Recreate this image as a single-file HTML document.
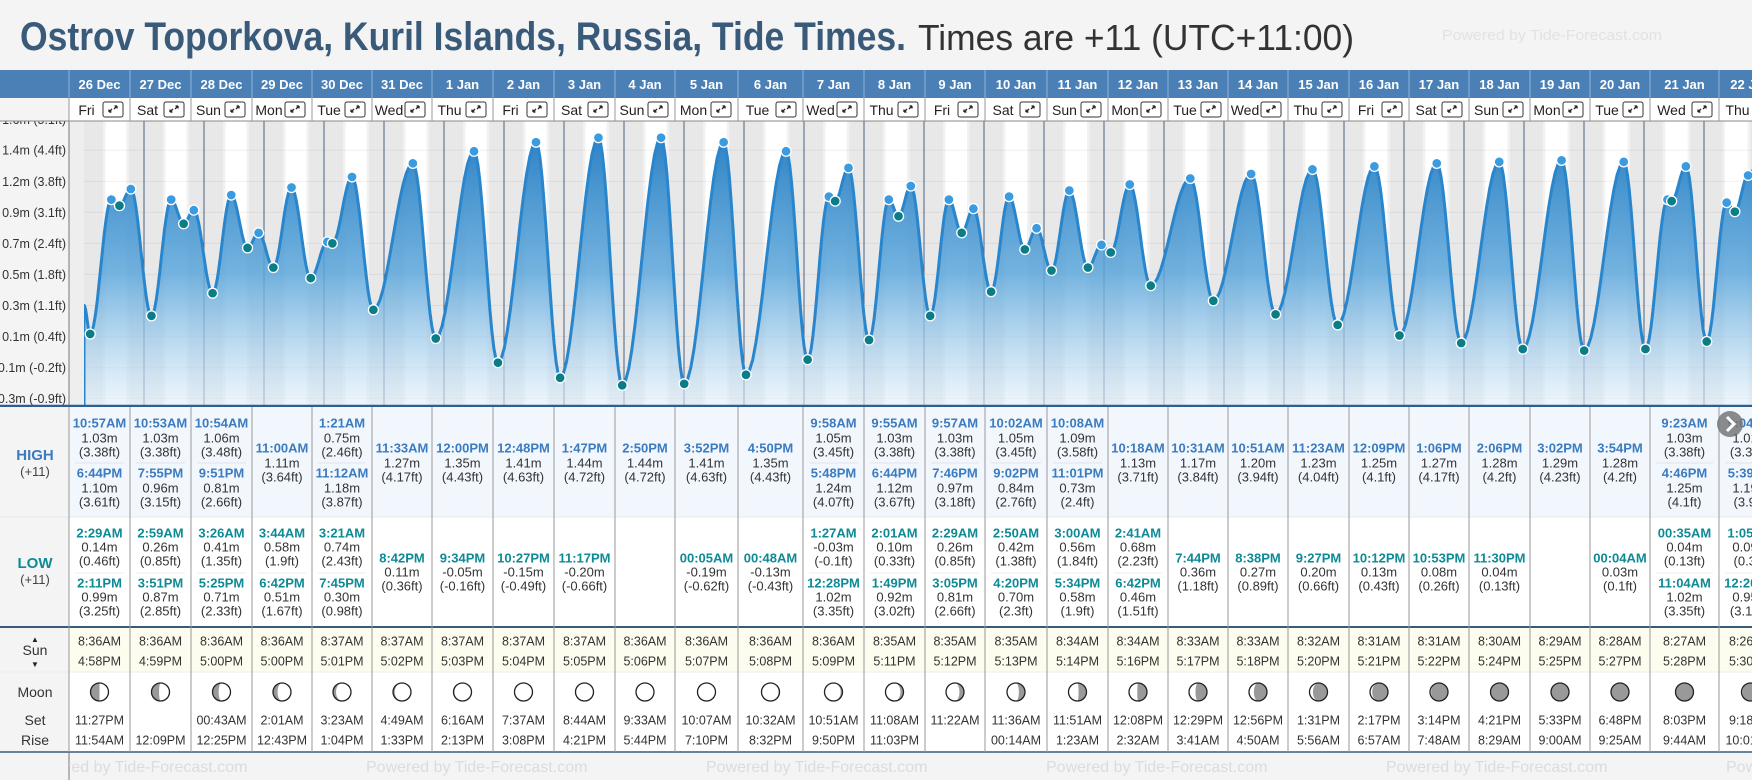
<!DOCTYPE html>
<html><head><meta charset="utf-8"><style>
html,body{margin:0;padding:0;background:#f4f4f4;}
svg{display:block;font-family:"Liberation Sans",Arial,sans-serif;}
</style></head><body>
<svg id="c" width="1752" height="780" viewBox="0 0 1752 780" xmlns="http://www.w3.org/2000/svg">
<defs>
<linearGradient id="fillg" x1="0" y1="0" x2="0" y2="1">
<stop offset="0" stop-color="#2a80c4" stop-opacity="0.98"/>
<stop offset="0.5" stop-color="#5aa5da" stop-opacity="0.85"/>
<stop offset="1" stop-color="#e2f0fb" stop-opacity="0.6"/>
</linearGradient>
<clipPath id="plotclip"><rect x="84" y="121" width="1668" height="285"/></clipPath>
<clipPath id="footclip"><rect x="69" y="752" width="1683" height="28"/></clipPath>
</defs>
<rect x="0" y="0" width="1752" height="780" fill="#f4f4f4"/>
<text x="20" y="50" font-size="40" font-weight="bold" fill="#3a5a7a" textLength="886" lengthAdjust="spacingAndGlyphs">Ostrov Toporkova, Kuril Islands, Russia, Tide Times.</text>
<text x="918" y="50" font-size="36" fill="#333" textLength="436" lengthAdjust="spacingAndGlyphs">Times are +11 (UTC+11:00)</text>
<text x="1442" y="40" font-size="15" fill="#e2e2e2" textLength="220" lengthAdjust="spacingAndGlyphs">Powered by Tide-Forecast.com</text>
<g id="layer"></g>
</svg>
<script>
const dates=['26 Dec','27 Dec','28 Dec','29 Dec','30 Dec','31 Dec','1 Jan','2 Jan','3 Jan','4 Jan','5 Jan','6 Jan','7 Jan','8 Jan','9 Jan','10 Jan','11 Jan','12 Jan','13 Jan','14 Jan','15 Jan','16 Jan','17 Jan','18 Jan','19 Jan','20 Jan','21 Jan','22 Jan'];
const dayNames=['Fri','Sat','Sun','Mon','Tue','Wed','Thu'];
const highs=[
[['10:57AM',1.03,'3.38'],['6:44PM',1.10,'3.61']],
[['10:53AM',1.03,'3.38'],['7:55PM',0.96,'3.15']],
[['10:54AM',1.06,'3.48'],['9:51PM',0.81,'2.66']],
[['11:00AM',1.11,'3.64']],
[['1:21AM',0.75,'2.46'],['11:12AM',1.18,'3.87']],
[['11:33AM',1.27,'4.17']],
[['12:00PM',1.35,'4.43']],
[['12:48PM',1.41,'4.63']],
[['1:47PM',1.44,'4.72']],
[['2:50PM',1.44,'4.72']],
[['3:52PM',1.41,'4.63']],
[['4:50PM',1.35,'4.43']],
[['9:58AM',1.05,'3.45'],['5:48PM',1.24,'4.07']],
[['9:55AM',1.03,'3.38'],['6:44PM',1.12,'3.67']],
[['9:57AM',1.03,'3.38'],['7:46PM',0.97,'3.18']],
[['10:02AM',1.05,'3.45'],['9:02PM',0.84,'2.76']],
[['10:08AM',1.09,'3.58'],['11:01PM',0.73,'2.4']],
[['10:18AM',1.13,'3.71']],
[['10:31AM',1.17,'3.84']],
[['10:51AM',1.20,'3.94']],
[['11:23AM',1.23,'4.04']],
[['12:09PM',1.25,'4.1']],
[['1:06PM',1.27,'4.17']],
[['2:06PM',1.28,'4.2']],
[['3:02PM',1.29,'4.23']],
[['3:54PM',1.28,'4.2']],
[['9:23AM',1.03,'3.38'],['4:46PM',1.25,'4.1']],
[['9:04AM',1.01,'3.31'],['5:39PM',1.19,'3.9']]];
const lows=[
[['2:29AM',0.14,'0.46'],['2:11PM',0.99,'3.25']],
[['2:59AM',0.26,'0.85'],['3:51PM',0.87,'2.85']],
[['3:26AM',0.41,'1.35'],['5:25PM',0.71,'2.33']],
[['3:44AM',0.58,'1.9'],['6:42PM',0.51,'1.67']],
[['3:21AM',0.74,'2.43'],['7:45PM',0.30,'0.98']],
[['8:42PM',0.11,'0.36']],
[['9:34PM',-0.05,'-0.16']],
[['10:27PM',-0.15,'-0.49']],
[['11:17PM',-0.20,'-0.66']],
[],
[['00:05AM',-0.19,'-0.62']],
[['00:48AM',-0.13,'-0.43']],
[['1:27AM',-0.03,'-0.1'],['12:28PM',1.02,'3.35']],
[['2:01AM',0.10,'0.33'],['1:49PM',0.92,'3.02']],
[['2:29AM',0.26,'0.85'],['3:05PM',0.81,'2.66']],
[['2:50AM',0.42,'1.38'],['4:20PM',0.70,'2.3']],
[['3:00AM',0.56,'1.84'],['5:34PM',0.58,'1.9']],
[['2:41AM',0.68,'2.23'],['6:42PM',0.46,'1.51']],
[['7:44PM',0.36,'1.18']],
[['8:38PM',0.27,'0.89']],
[['9:27PM',0.20,'0.66']],
[['10:12PM',0.13,'0.43']],
[['10:53PM',0.08,'0.26']],
[['11:30PM',0.04,'0.13']],
[],
[['00:04AM',0.03,'0.1']],
[['00:35AM',0.04,'0.13'],['11:04AM',1.02,'3.35']],
[['1:05AM',0.09,'0.3'],['12:20PM',0.95,'3.12']]];
const sunrise=['8:36AM','8:36AM','8:36AM','8:36AM','8:37AM','8:37AM','8:37AM','8:37AM','8:37AM','8:36AM','8:36AM','8:36AM','8:36AM','8:35AM','8:35AM','8:35AM','8:34AM','8:34AM','8:33AM','8:33AM','8:32AM','8:31AM','8:31AM','8:30AM','8:29AM','8:28AM','8:27AM','8:26AM'];
const sunset=['4:58PM','4:59PM','5:00PM','5:00PM','5:01PM','5:02PM','5:03PM','5:04PM','5:05PM','5:06PM','5:07PM','5:08PM','5:09PM','5:11PM','5:12PM','5:13PM','5:14PM','5:16PM','5:17PM','5:18PM','5:20PM','5:21PM','5:22PM','5:24PM','5:25PM','5:27PM','5:28PM','5:30PM'];
const moonSet=['11:27PM','','00:43AM','2:01AM','3:23AM','4:49AM','6:16AM','7:37AM','8:44AM','9:33AM','10:07AM','10:32AM','10:51AM','11:08AM','11:22AM','11:36AM','11:51AM','12:08PM','12:29PM','12:56PM','1:31PM','2:17PM','3:14PM','4:21PM','5:33PM','6:48PM','8:03PM','9:18PM'];
const moonRise=['11:54AM','12:09PM','12:25PM','12:43PM','1:04PM','1:33PM','2:13PM','3:08PM','4:21PM','5:44PM','7:10PM','8:32PM','9:50PM','11:03PM','','00:14AM','1:23AM','2:32AM','3:41AM','4:50AM','5:56AM','6:57AM','7:48AM','8:29AM','9:00AM','9:25AM','9:44AM','10:01AM'];
const moonLit=[0.5,0.58,0.66,0.75,0.83,0.9,0.95,0.99,1,1,0.98,0.95,0.9,0.83,0.75,0.66,0.56,0.46,0.36,0.27,0.19,0.12,0.06,0.03,0.01,0.01,0.02,0.05];
const tickMetres=[1.562,1.357,1.151,0.946,0.74,0.535,0.329,0.124,-0.082,-0.287];
const tickLabels=['1.6m (5.1ft)','1.4m (4.4ft)','1.2m (3.8ft)','0.9m (3.1ft)','0.7m (2.4ft)','0.5m (1.8ft)','0.3m (1.1ft)','0.1m (0.4ft)','-0.1m (-0.2ft)','-0.3m (-0.9ft)'];
const startLevel=0.33;

const bounds=[69,130,191,252,312,372,432,493,554,615,675,738,803,864,925,985,1047,1108,1168,1228,1288,1349,1409,1469,1530,1590,1650,1719,1782];
const NS='http://www.w3.org/2000/svg';
const L=document.getElementById('layer');
function mk(tag,attrs,parent,txt){const e=document.createElementNS(NS,tag);for(const k in attrs)e.setAttribute(k,attrs[k]);if(txt!==undefined)e.textContent=txt;(parent||L).appendChild(e);return e;}
const X0=84, PXH=2.5, PB=406, PT=121;
function xT(t){return X0+t*PXH;}
function yH(h){return 337-(h-0.12)*151;}
function parseT(s){const m=s.match(/(\d+):(\d+)(AM|PM)/);let h=+m[1],mi=+m[2];if(m[3]==='PM'&&h<12)h+=12;if(m[3]==='AM'&&h===12)h=0;return h+mi/60;}

const plotBg=mk('g',{'clip-path':'url(#plotclip)'});


mk('rect',{x:69,y:PT,width:1683,height:PB-PT,fill:'#e8e8e8'},plotBg);
mk('rect',{x:69,y:PT,width:15,height:PB-PT,fill:'#eeeeee'});
for(let i=0;i<dates.length;i++){
  const sr=parseT(sunrise[i]),ss=parseT(sunset[i]);
  mk('rect',{x:xT(i*24+sr-1),y:PT,width:PXH*1,height:PB-PT,fill:'#f2f2f2'},plotBg);
  mk('rect',{x:xT(i*24+ss),y:PT,width:PXH*1,height:PB-PT,fill:'#f2f2f2'},plotBg);
  const d=mk('rect',{x:xT(i*24+sr),y:PT,width:(ss-sr)*PXH,height:PB-PT,fill:'#ffffff'},plotBg);
  
  
}
for(let k=0;k<tickMetres.length;k++){
  mk('line',{x1:84,x2:1752,y1:yH(tickMetres[k]),y2:yH(tickMetres[k]),stroke:'#000',opacity:0.05,'stroke-width':1},plotBg);
}
for(let i=1;i<dates.length;i++){
  const ln=mk('line',{x1:xT(i*24),x2:xT(i*24),y1:PT,y2:PB,stroke:'#4a6080','stroke-width':1},plotBg);
  
  
}
const ext=[];
for(let i=0;i<dates.length;i++){
  highs[i].forEach(e=>ext.push({t:i*24+parseT(e[0]),h:e[1],hi:true}));
  lows[i].forEach(e=>ext.push({t:i*24+parseT(e[0]),h:e[1],hi:false}));
}
ext.sort((a,b)=>a.t-b.t);
const pts=[{t:0,h:startLevel}].concat(ext);
let d='M'+xT(0)+','+PB+' L'+xT(0)+','+yH(startLevel).toFixed(1);
let line='M'+xT(0)+','+PB+' L'+xT(0)+','+yH(startLevel).toFixed(1);
for(let k=0;k<pts.length-1;k++){
  const a=pts[k],b=pts[k+1];
  for(let s=1;s<=12;s++){
    const f=s/12,t=a.t+(b.t-a.t)*f,h=a.h+(b.h-a.h)*(1-Math.cos(Math.PI*f))/2;
    const seg=' L'+xT(t).toFixed(1)+','+yH(h).toFixed(1);d+=seg;line+=seg;
  }
}
const last=pts[pts.length-1];
const ext2=last.t+6.2, eh=1.35;
for(let s=1;s<=12;s++){const f=s/12,t=last.t+(ext2-last.t)*f,h=last.h+(eh-last.h)*(1-Math.cos(Math.PI*f))/2;const seg=' L'+xT(t).toFixed(1)+','+yH(h).toFixed(1);d+=seg;line+=seg;}
d+=' L'+xT(ext2)+','+PB+' Z';
const cg=mk('g',{'clip-path':'url(#plotclip)'});
const area=mk('path',{d:d,fill:'url(#fillg)'},cg);


const tl=mk('path',{d:line,fill:'none',stroke:'#2a86cc','stroke-width':3,'stroke-linejoin':'round'},cg);


ext.forEach(e=>{
  const c=mk('circle',{cx:xT(e.t),cy:yH(e.h),r:5,fill:e.hi?'#3a9be0':'#0a7d87',stroke:'#fff','stroke-width':1.3},cg);
  
  
});
mk('rect',{x:0,y:98,width:69,height:308,fill:'#f4f4f4'});
mk('line',{x1:69,x2:69,y1:98,y2:406,stroke:'#777','stroke-width':1});
for(let k=0;k<tickLabels.length;k++){
  const t=mk('text',{x:66,y:yH(tickMetres[k])+4.5,'font-size':12.5,fill:'#333','text-anchor':'end'},L,tickLabels[k]);
  
  
}
mk('rect',{x:0,y:70,width:1752,height:28,fill:'#4a80b5'});
mk('rect',{x:69,y:98,width:1683,height:23,fill:'#ffffff'});
mk('rect',{x:0,y:98,width:69,height:23,fill:'#f4f4f4'});
mk('line',{x1:0,x2:1752,y1:121,y2:121,stroke:'#888','stroke-width':1});
mk('line',{x1:0,x2:1752,y1:406,y2:406,stroke:'#2f5f8f','stroke-width':2.5});
mk('rect',{x:0,y:407,width:69,height:345,fill:'#f4f4f4'});
mk('rect',{x:69,y:407,width:1683,height:110,fill:'#f2f7fd'});
mk('rect',{x:69,y:517,width:1683,height:110,fill:'#ffffff'});
mk('rect',{x:69,y:627,width:1683,height:45,fill:'#fcfcef'});
mk('rect',{x:69,y:672,width:1683,height:80,fill:'#ffffff'});
mk('line',{x1:0,x2:1752,y1:517,y2:517,stroke:'#e8e8e8','stroke-width':1});
mk('line',{x1:0,x2:1752,y1:627,y2:627,stroke:'#3a5a7a','stroke-width':2});
mk('line',{x1:0,x2:1752,y1:672,y2:672,stroke:'#eeeeee','stroke-width':1});
mk('line',{x1:0,x2:1752,y1:752,y2:752,stroke:'#3a5a7a','stroke-width':1.5});
mk('line',{x1:69,x2:69,y1:407,y2:780,stroke:'#777','stroke-width':1});
const lbl=(x,y,s,txt,fs,fw,fill,name)=>{const t=mk('text',{x:x,y:y,'font-size':fs,'font-weight':fw,fill:fill,'text-anchor':'middle'},L,txt);};
lbl(35,460,0,'HIGH',15,'bold','#3b7bc0','high-label');
lbl(35,476,0,'(+11)',13,'normal','#444','high-tz-label');
lbl(35,568,0,'LOW',15,'bold','#0e8a96','low-label');
lbl(35,584,0,'(+11)',13,'normal','#444','low-tz-label');
lbl(35,642,0,'▲',8,'normal','#222','sunrise-arrow');
lbl(35,655,0,'Sun',14,'normal','#333','sun-label');
lbl(35,667,0,'▼',8,'normal','#222','sunset-arrow');
lbl(35,697,0,'Moon',14,'normal','#333','moon-label');
lbl(35,725,0,'Set',14,'normal','#333','moonset-label');
lbl(35,745,0,'Rise',14,'normal','#333','moonrise-label');
const fg=mk('g',{'clip-path':'url(#footclip)'});
for(let k=0;k<6;k++){
  const t=mk('text',{x:26+k*340,y:772,'font-size':16,fill:'#dcdcdc'},fg,'Powered by Tide-Forecast.com');
  
  
}
function moonIcon(cx,cy,k,right){
  const r=9,g=mk('g',{});
  
  
  mk('circle',{cx:cx,cy:cy,r:r,fill:'#999'},g);
  const rx=Math.abs(2*k-1)*r;
  let s1,s2;
  if(right){s1=1;s2=k>=0.5?1:0;}else{s1=0;s2=k>=0.5?0:1;}
  if(k>0.015)mk('path',{d:`M${cx},${cy-r} A${r},${r} 0 0 ${s1} ${cx},${cy+r} A${rx},${r} 0 0 ${s2} ${cx},${cy-r} Z`,fill:'#fff'},g);
  mk('circle',{cx:cx,cy:cy,r:r,fill:'none',stroke:'#222','stroke-width':1.3},g);
}
function entry(cx,ys,e,col,name){
  const t=mk('text',{x:cx,y:ys[0]+4.5,'font-size':13,'font-weight':'bold',fill:col,'text-anchor':'middle'},L,e[0]);
  
  
  mk('text',{x:cx,y:ys[1]+4.5,'font-size':13,fill:'#333','text-anchor':'middle'},L,(e[1]<0?'-':'')+Math.abs(e[1]).toFixed(2)+'m');
  mk('text',{x:cx,y:ys[2]+4.5,'font-size':13,fill:'#333','text-anchor':'middle'},L,'('+e[2]+'ft)');
}
for(let i=0;i<dates.length;i++){
  const x0=bounds[i],x1=bounds[i+1],cx=(x0+x1)/2;
  const dt=mk('text',{x:cx,y:89,'font-size':13,'font-weight':'bold',fill:'#fff','text-anchor':'middle'},L,dates[i]);
  
  
  mk('line',{x1:x0,x2:x0,y1:70,y2:98,stroke:'#8fb2d6','stroke-width':1});
  mk('line',{x1:x0,x2:x0,y1:98,y2:121,stroke:'#999','stroke-width':1});
  const dn=mk('text',{x:(x0+x1-26)/2,y:115,'font-size':14,fill:'#222','text-anchor':'middle'},L,dayNames[i%7]);
  
  
  const bx=x1-27;
  const eb=mk('g',{});
  
  
  mk('rect',{x:bx,y:102,width:20,height:15,rx:2,fill:'#fff',stroke:'#333','stroke-width':1},eb);
  mk('path',{d:`M${bx+6},${112} L${bx+9},${109} M${bx+6},${112} l0,-2.5 M${bx+6},${112} l2.5,0 M${bx+14},${106} L${bx+11},${109} M${bx+14},${106} l0,2.5 M${bx+14},${106} l-2.5,0`,stroke:'#222','stroke-width':1.3,fill:'none'},eb);
  mk('line',{x1:x0,x2:x0,y1:407,y2:752,stroke:'#999','stroke-width':1});
  const H=highs[i],Lo=lows[i];
  if(H.length===2){entry(cx,[423,438,452],H[0],'#3b7bc0','high-tide');entry(cx,[473,488,502],H[1],'#3b7bc0','high-tide');mk('line',{x1:x0+6,x2:x1-6,y1:463,y2:463,stroke:'#e0e6ee'});}
  else if(H.length===1)entry(cx,[448,463,477],H[0],'#3b7bc0','high-tide');
  if(Lo.length===2){entry(cx,[533,547,561],Lo[0],'#0e8a96','low-tide');entry(cx,[583,597,611],Lo[1],'#0e8a96','low-tide');mk('line',{x1:x0+6,x2:x1-6,y1:573,y2:573,stroke:'#eeeeee'});}
  else if(Lo.length===1)entry(cx,[558,572,586],Lo[0],'#0e8a96','low-tide');
  const s1=mk('text',{x:cx,y:645.5,'font-size':12.5,fill:'#333','text-anchor':'middle'},L,sunrise[i]);
  
  
  const s2=mk('text',{x:cx,y:665.5,'font-size':12.5,fill:'#333','text-anchor':'middle'},L,sunset[i]);
  
  
  moonIcon(cx,692,moonLit[i],i<9);
  const m1=mk('text',{x:cx,y:724.5,'font-size':12.5,fill:'#333','text-anchor':'middle'},L,moonSet[i]);
  
  
  const m2=mk('text',{x:cx,y:744.5,'font-size':12.5,fill:'#333','text-anchor':'middle'},L,moonRise[i]);
  
  
}
const nb=mk('g',{});


mk('circle',{cx:1730,cy:424,r:13,fill:'#777',opacity:0.85},nb);
mk('path',{d:'M1727,417 L1734,424 L1727,431',stroke:'#fff','stroke-width':3,fill:'none'},nb);
</script>
</body></html>
